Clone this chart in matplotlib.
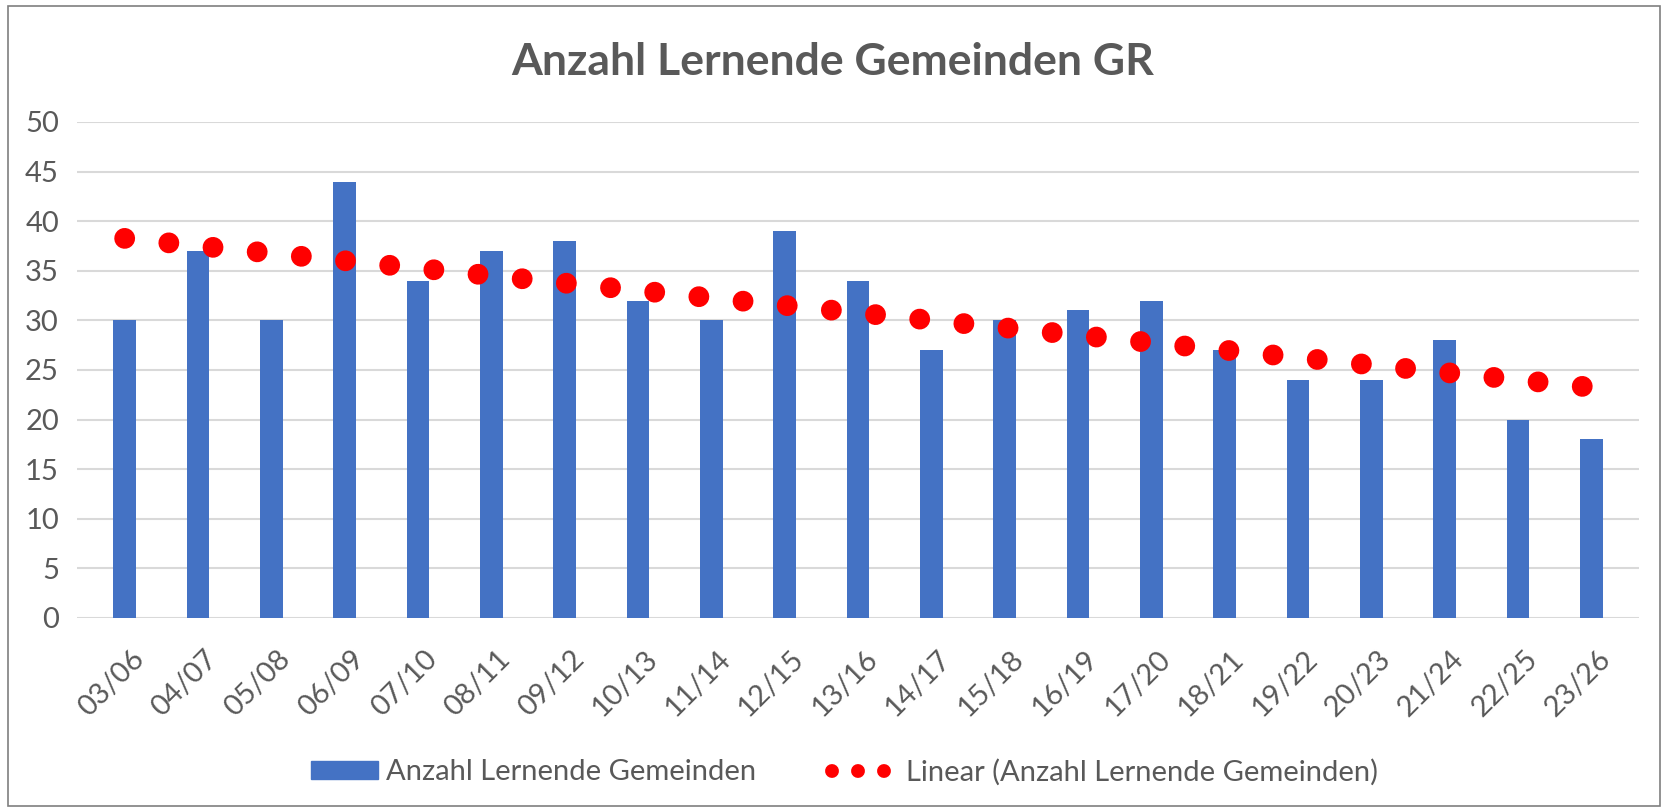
import numpy as np
import matplotlib
matplotlib.use("Agg")
import matplotlib.pyplot as plt
import matplotlib.transforms as mtransforms
from matplotlib.patches import Rectangle
from matplotlib.lines import Line2D

# data
years = ["03/06", "04/07", "05/08", "06/09", "07/10", "08/11", "09/12",
         "10/13", "11/14", "12/15", "13/16", "14/17", "15/18", "16/19",
         "17/20", "18/21", "19/22", "20/23", "21/24", "22/25", "23/26"]
lernende = [30, 37, 30, 44, 34, 37, 38, 32, 30, 39, 34, 27, 30, 31,
            32, 27, 24, 24, 28, 20, 18]

title = "Anzahl Lernende Gemeinden GR"
bar_label = "Anzahl Lernende Gemeinden"
trend_label = "Linear (Anzahl Lernende Gemeinden)"

plt.rcParams['font.family'] = ['Lato', 'DejaVu Sans']
text_col = "#595959"

fig = plt.figure(figsize=(16.66, 8.08), dpi=100)
ax = fig.add_axes([77 / 1666, 1 - 618 / 808, (1639 - 77) / 1666, (618 - 122) / 808])

x = np.arange(len(years))
ax.bar(x, lernende, width=0.31, color="#4472C4", zorder=2, label=bar_label)

# linear trendline like excel does it
slope, icept = np.polyfit(x, lernende, 1)
ax.plot(x, slope * x + icept, color="#FF0000", lw=15, dashes=(0.001, 2.13),
        dash_capstyle="round", zorder=3)

ax.set_xlim(-0.65, len(years) - 0.35)
ax.set_ylim(0, 50)
ax.set_yticks(range(0, 51, 5))
ax.grid(axis="y", color="#D9D9D9", lw=1.5, zorder=0)
for s in ax.spines.values():
    s.set_visible(False)
ax.tick_params(length=0, labelsize=21, labelcolor=text_col)
ax.tick_params(axis="y", pad=13)
ax.set_xticks(x)
ax.set_xticklabels(years, rotation=45, ha="right", va="top", rotation_mode="anchor")
ax.tick_params(axis="x", pad=20)
shift = mtransforms.ScaledTranslation(6 / 100, 0, fig.dpi_scale_trans)
for lbl in ax.get_xticklabels():
    lbl.set_transform(lbl.get_transform() + shift)

fig.text(0.5, 1 - 62 / 808, title, ha="center", va="center",
         fontsize=32, fontweight="bold", color=text_col)

handles = [Rectangle((0, 0), 1, 1, color="#4472C4"),
           Line2D([], [], color="#FF0000", lw=10, dashes=(0.001, 1.87),
                  dash_capstyle="round")]
fig.legend(handles, [bar_label, trend_label], loc="center",
           bbox_to_anchor=(0.507, 1 - 772 / 808), ncol=2, frameon=False,
           fontsize=21, labelcolor=text_col, handlelength=2.3,
           handleheight=0.6, handletextpad=0.25, columnspacing=2.6)

# outer chart border
fig.patches.append(Rectangle((8 / 1666, 2 / 808), 1 - 14 / 1666, 1 - 8 / 808,
                             transform=fig.transFigure, fill=False,
                             edgecolor="#7F7F7F", lw=1.2))

fig.savefig("out.png", dpi=100)
